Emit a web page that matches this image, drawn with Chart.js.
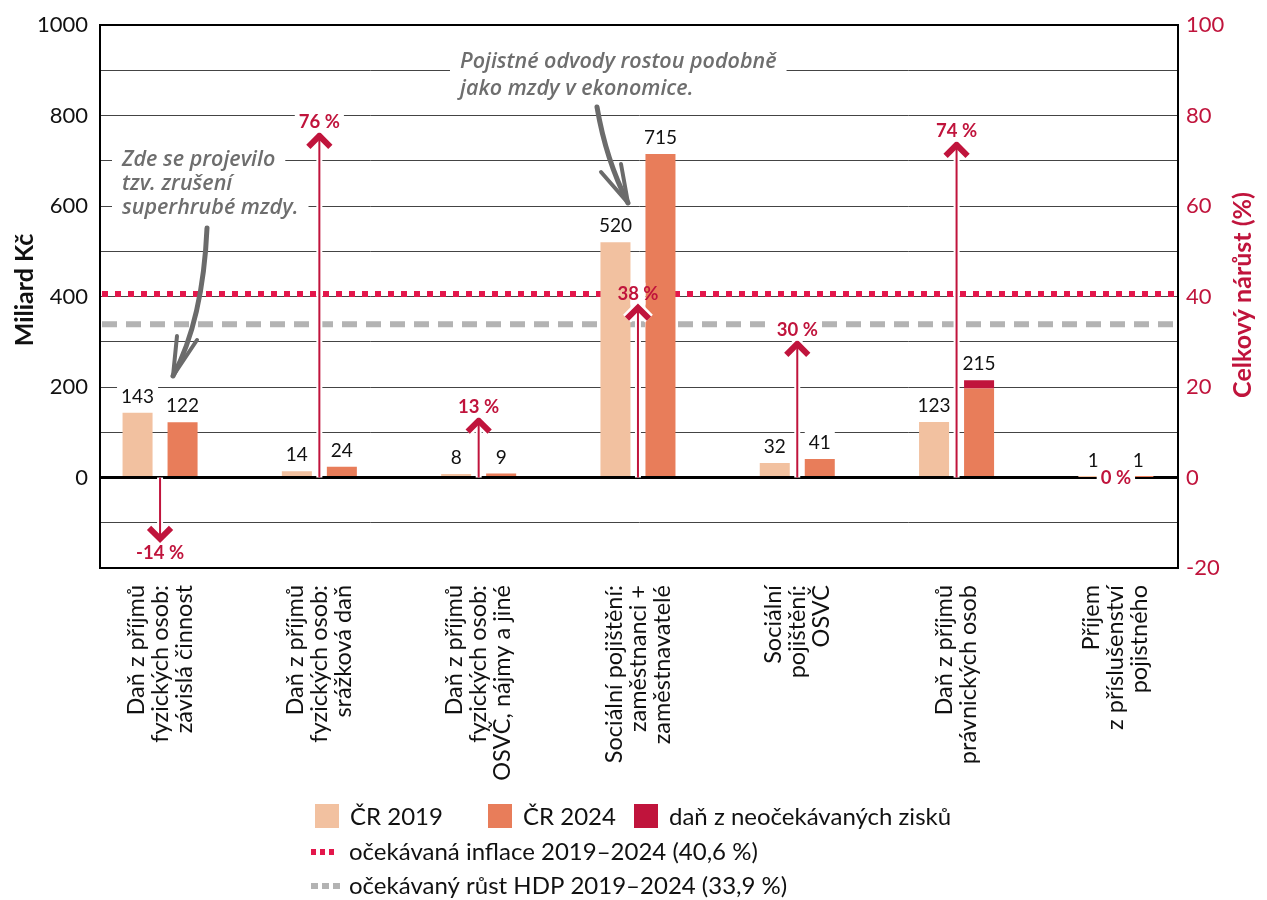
<!DOCTYPE html>
<html lang="cs">
<head>
<meta charset="utf-8">
<script src="https://cdn.jsdelivr.net/npm/chart.js@4.4.1/dist/chart.umd.min.js"></script>
<style>
  html, body { margin: 0; padding: 0; background: #fff; }
  #wrap { position: relative; width: 1267px; height: 900px; }
</style>
</head>
<body>
<div id="wrap"><canvas id="chart"></canvas></div>
<script>
// Data
const categories = [
  ['Daň z příjmů', 'fyzických osob:', 'závislá činnost'],
  ['Daň z příjmů', 'fyzických osob:', 'srážková daň'],
  ['Daň z příjmů', 'fyzických osob:', 'OSVČ, nájmy a jiné'],
  ['Sociální pojištění:', 'zaměstnanci +', 'zaměstnavatelé'],
  ['Sociální', 'pojištění:', 'OSVČ'],
  ['Daň z příjmů', 'právnických osob'],
  ['Příjem', 'z příslušenství', 'pojistného']
];
const cr2019 = [143, 14, 8, 520, 32, 123, 1];
const cr2024 = [122, 24, 9, 715, 41, 197, 1];
const windfallTax = [null, null, null, null, null, 18, null];
const growthPct = [-14, 76, 13, 38, 30, 74, 0];
const inflation = 40.6;
const gdpGrowth = 33.9;

const legendItems = [
  ['ČR 2019', 'ČR 2024', 'daň z neočekávaných zisků'],
  'očekávaná inflace 2019–2024 (40,6 %)',
  'očekávaný růst HDP 2019–2024 (33,9 %)'
];
const notes = [
  { lines: ['Zde se projevilo', 'tzv. zrušení', 'superhrubé mzdy.'], x: 122, y: 160, lh: 24 },
  { lines: ['Pojistné odvody rostou podobně', 'jako mzdy v ekonomice.'], x: 460, y: 62, lh: 27 }
];

const PEACH = '#f2c1a0';
const ORANGE = '#e87d5a';
const CRIMSON = '#c0143c';
const PINK = '#e3174b';
const GREY = '#b3b3b3';
const FONT = 'Lato, "Open Sans", sans-serif';
const NOTE_FONT = 'italic 600 21.5px "Open Sans", sans-serif';

function refLine(ctx, area, y, color, dash) {
  ctx.save();
  ctx.strokeStyle = color;
  ctx.lineWidth = 6;
  ctx.setLineDash(dash);
  ctx.beginPath();
  ctx.moveTo(area.left + 2, y);
  ctx.lineTo(area.right - 2, y);
  ctx.stroke();
  ctx.restore();
}

function boxedText(ctx, text, x, y, box) {
  const w = ctx.measureText(text).width;
  if (box) {
    ctx.fillStyle = '#fff';
    ctx.fillRect(x - w / 2 - 4, y - 11, w + 8, 22);
  }
  ctx.fillStyle = ctx._txt;
  ctx.fillText(text, x, y);
}

function noteArrow(ctx, pts, barbL, barbR) {
  ctx.save();
  ctx.strokeStyle = '#6b6b6b';
  ctx.lineCap = 'round';
  ctx.lineJoin = 'round';
  ctx.lineWidth = 5;
  ctx.beginPath();
  ctx.moveTo(pts[0][0], pts[0][1]);
  ctx.quadraticCurveTo(pts[1][0], pts[1][1], pts[2][0], pts[2][1]);
  ctx.stroke();
  ctx.lineWidth = 4;
  ctx.beginPath();
  ctx.moveTo(barbL[0], barbL[1]);
  ctx.lineTo(pts[2][0], pts[2][1]);
  ctx.lineTo(barbR[0], barbR[1]);
  ctx.stroke();
  ctx.restore();
}

const decor = {
  id: 'decor',
  beforeDatasetsDraw(chart) {
    const { ctx, chartArea: a, scales: { y2 } } = chart;
    ctx.save();
    ctx.font = NOTE_FONT;
    ctx.fillStyle = '#fff';
    notes.forEach(n => n.lines.forEach((t, k) => {
      const w = ctx.measureText(t).width;
      ctx.fillRect(n.x - 10, n.y + k * n.lh - 12, w + 20, 24);
    }));
    ctx.restore();
    refLine(ctx, a, y2.getPixelForValue(gdpGrowth), GREY, [15, 9]);
    refLine(ctx, a, y2.getPixelForValue(inflation), PINK, [6, 7]);
  },
  afterDatasetsDraw(chart) {
    const { ctx, scales: { x, y2 } } = chart;
    const m19 = chart.getDatasetMeta(0).data;
    const m24 = chart.getDatasetMeta(1).data;
    const mWt = chart.getDatasetMeta(2).data;
    const y0 = y2.getPixelForValue(0);
    ctx.save();

    // growth labels sitting over bars: clear the gap between the bars
    growthPct.forEach((g, i) => {
      const ly = y2.getPixelForValue(g) - 12;
      if (g > 0 && ly >= Math.min(m19[i].y, m24[i].y) - 10) {
        const l = m19[i].x + m19[i].width / 2, r = m24[i].x - m24[i].width / 2;
        ctx.fillStyle = '#fff';
        ctx.fillRect(l, ly - 11, r - l, 22);
      }
    });

    // growth arrows
    growthPct.forEach((g, i) => {
      if (g === 0) return;
      const px = x.getPixelForValue(i);
      const yt = y2.getPixelForValue(g);
      const d = g > 0 ? 1 : -1;
      ctx.lineCap = 'butt';
      ctx.lineJoin = 'miter';
      [['#fff', 6, 11], [CRIMSON, 2, 6]].forEach(([c, lw, cw]) => {
        ctx.strokeStyle = c;
        ctx.lineWidth = lw;
        ctx.beginPath();
        ctx.moveTo(px, y0);
        ctx.lineTo(px, yt + d * 3);
        ctx.stroke();
        ctx.lineWidth = cw;
        ctx.beginPath();
        ctx.moveTo(px - 11, yt + d * 13);
        ctx.lineTo(px, yt + d * 2);
        ctx.lineTo(px + 11, yt + d * 13);
        ctx.stroke();
      });
    });

    // value labels
    ctx.font = '19px ' + FONT;
    ctx.textAlign = 'center';
    ctx.textBaseline = 'middle';
    ctx._txt = '#111';
    cr2019.forEach((v, i) => {
      const b = m19[i];
      boxedText(ctx, String(v), b.x, b.y - 16, true);
      const top = windfallTax[i] ? mWt[i].y : m24[i].y;
      boxedText(ctx, String(cr2024[i] + (windfallTax[i] || 0)), m24[i].x, top - 16, true);
    });

    // growth labels
    ctx.font = 'bold 18.5px ' + FONT;
    ctx._txt = CRIMSON;
    growthPct.forEach((g, i) => {
      const px = x.getPixelForValue(i);
      const yt = y2.getPixelForValue(g);
      const ly = g > 0 ? yt - 12 : (g < 0 ? yt + 12 : y0);
      const barTop = Math.min(m19[i].y, m24[i].y);
      boxedText(ctx, g + ' %', px, ly, ly < barTop - 10 || g === 0);
    });

    // notes
    ctx.font = NOTE_FONT;
    ctx.textAlign = 'left';
    ctx.fillStyle = '#6e6e6e';
    notes.forEach(n => n.lines.forEach((t, k) => ctx.fillText(t, n.x, n.y + k * n.lh)));
    ctx.restore();
    noteArrow(ctx, [[207, 228], [203, 320], [173, 376]], [177, 336], [197, 340]);
    noteArrow(ctx, [[597, 107], [606, 160], [628, 203]], [601, 172], [621, 164]);
  },
  afterDraw(chart) {
    const { ctx, chartArea: a, scales: { x } } = chart;
    ctx.save();
    // category labels
    ctx.font = '23.5px ' + FONT;
    ctx.fillStyle = '#111';
    ctx.textAlign = 'right';
    ctx.textBaseline = 'middle';
    categories.forEach((lines, i) => {
      const px = x.getPixelForValue(i);
      lines.forEach((t, k) => {
        ctx.save();
        ctx.translate(px + (k - (lines.length - 1) / 2) * 24, a.bottom + 17);
        ctx.rotate(-Math.PI / 2);
        ctx.fillText(t, 0, 0);
        ctx.restore();
      });
    });

    // axis titles
    ctx.font = 'bold 25px ' + FONT;
    ctx.textAlign = 'center';
    ctx.save();
    ctx.translate(25, 290);
    ctx.rotate(-Math.PI / 2);
    ctx.fillStyle = '#111';
    ctx.fillText('Miliard Kč', 0, 0);
    ctx.restore();
    ctx.save();
    ctx.translate(1243, 295);
    ctx.rotate(-Math.PI / 2);
    ctx.fillStyle = CRIMSON;
    ctx.fillText('Celkový nárůst (%)', 0, 0);
    ctx.restore();

    // legend
    ctx.font = '24px ' + FONT;
    ctx.textAlign = 'left';
    const sw = [PEACH, ORANGE, CRIMSON];
    const sx = [315, 488, 634];
    legendItems[0].forEach((t, k) => {
      ctx.fillStyle = sw[k];
      ctx.fillRect(sx[k], 804, 24, 24);
      ctx.fillStyle = '#111';
      ctx.fillText(t, sx[k] + 35, 817);
    });
    ctx.lineWidth = 6;
    ctx.strokeStyle = PINK;
    ctx.setLineDash([5, 4]);
    ctx.beginPath(); ctx.moveTo(311, 852); ctx.lineTo(338, 852); ctx.stroke();
    ctx.strokeStyle = GREY;
    ctx.setLineDash([7, 4]);
    ctx.beginPath(); ctx.moveTo(311, 886); ctx.lineTo(340, 886); ctx.stroke();
    ctx.setLineDash([]);
    ctx.fillStyle = '#111';
    ctx.fillText(legendItems[1], 349, 852);
    ctx.fillText(legendItems[2], 349, 886);
    ctx.restore();
  }
};

const pts = arr => arr.map((v, i) => ({ x: i, y: v }));

new Chart(document.getElementById('chart'), {
  type: 'bar',
  data: {
    datasets: [
      { label: 'ČR 2019', data: pts(cr2019), backgroundColor: PEACH, stack: 'a', yAxisID: 'y' },
      { label: 'ČR 2024', data: pts(cr2024), backgroundColor: ORANGE, stack: 'b', yAxisID: 'y' },
      { label: 'daň z neočekávaných zisků', data: pts(windfallTax), backgroundColor: CRIMSON, stack: 'b', yAxisID: 'y' }
    ]
  },
  options: {
    responsive: true,
    maintainAspectRatio: false,
    animation: false,
    categoryPercentage: 0.565,
    barPercentage: 0.667,
    layout: { padding: { top: 25, bottom: 332 } },
    plugins: { legend: { display: false }, tooltip: { enabled: false } },
    scales: {
      x: {
        type: 'linear',
        min: -0.377,
        max: 6.39,
        offset: false,
        display: false,
        afterBuildTicks: s => { s.ticks = categories.map((c, i) => ({ value: i })); }
      },
      y: {
        position: 'left',
        stacked: true,
        min: -200,
        max: 1000,
        afterFit: s => { s.width = 100; },
        border: { color: '#000', width: 2 },
        grid: {
          drawTicks: false,
          color: c => (c.tick.value === 0 || c.tick.value === 1000 || c.tick.value === -200) ? '#000' : '#444',
          lineWidth: c => c.tick.value === 0 ? 3 : ((c.tick.value === 1000 || c.tick.value === -200) ? 2 : 1)
        },
        ticks: {
          stepSize: 100,
          padding: 12,
          color: '#111',
          font: { family: FONT, size: 22 },
          callback: v => (v >= 0 && v % 200 === 0) ? v : ''
        }
      },
      y2: {
        position: 'right',
        min: -20,
        max: 100,
        afterFit: s => { s.width = 89; },
        border: { color: '#000', width: 2 },
        grid: { drawOnChartArea: false, drawTicks: false },
        ticks: { stepSize: 20, padding: 8, color: CRIMSON, font: { family: FONT, size: 22 } }
      }
    }
  },
  plugins: [decor]
});
</script>
</body>
</html>
